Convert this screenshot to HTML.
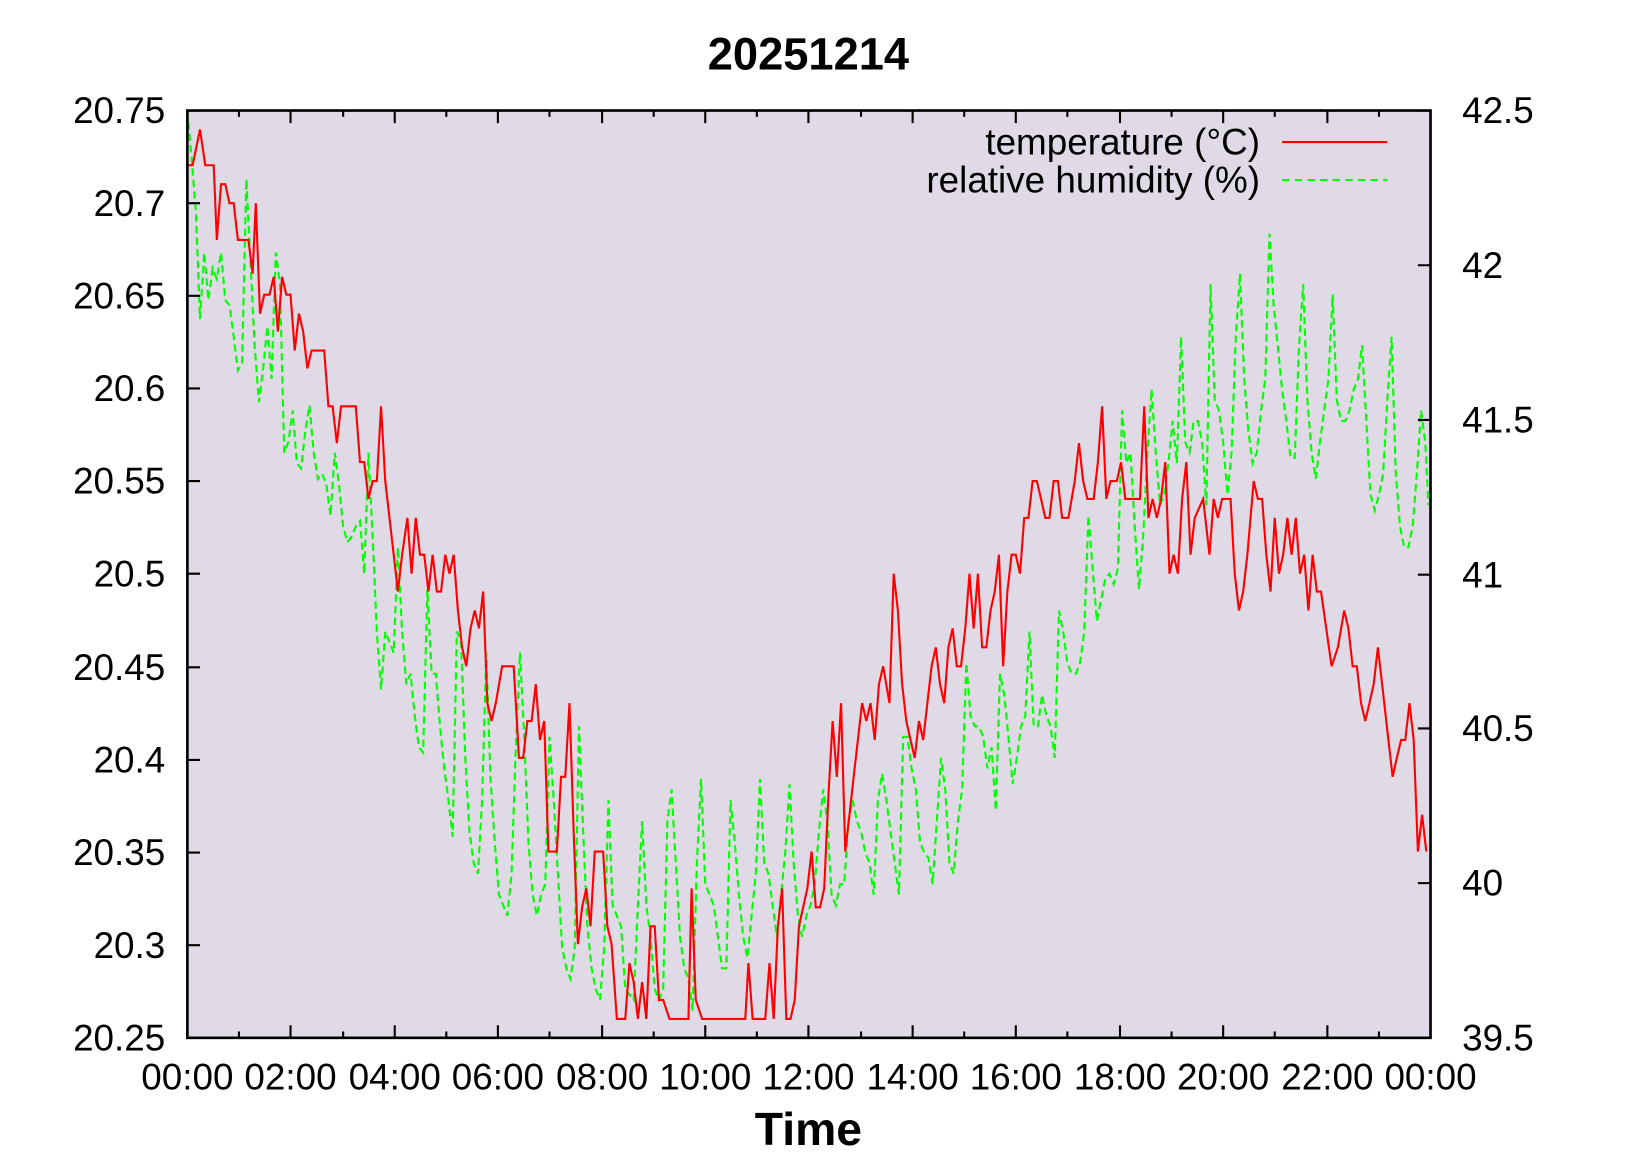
<!DOCTYPE html>
<html><head><meta charset="utf-8"><style>body{margin:0;background:#fff}svg{display:block}text{font-family:"Liberation Sans",sans-serif;fill:#000}</style></head><body>
<svg width="1650" height="1155" viewBox="0 0 1567.5 1097.3" preserveAspectRatio="none" xmlns="http://www.w3.org/2000/svg">
<rect x="178" y="105" width="1181" height="881" fill="#e0d9e6"/>
<text x="768" y="66" font-size="43" font-weight="bold" text-anchor="middle">20251214</text>
<text x="768" y="1088" font-size="44" font-weight="bold" text-anchor="middle">Time</text>
<g font-size="35" text-anchor="end">
<text x="157" y="117">20.75</text><text x="157" y="205">20.7</text><text x="157" y="293">20.65</text><text x="157" y="381">20.6</text><text x="157" y="469">20.55</text><text x="157" y="557">20.5</text><text x="157" y="646">20.45</text><text x="157" y="734">20.4</text><text x="157" y="822">20.35</text><text x="157" y="910">20.3</text><text x="157" y="998">20.25</text>
</g>
<g font-size="35">
<text x="1389" y="117">42.5</text><text x="1389" y="264">42</text><text x="1389" y="411">41.5</text><text x="1389" y="558">41</text><text x="1389" y="704">40.5</text><text x="1389" y="851">40</text><text x="1389" y="998">39.5</text>
</g>
<g font-size="35" text-anchor="middle">
<text x="178" y="1035">00:00</text><text x="276" y="1035">02:00</text><text x="375" y="1035">04:00</text><text x="473" y="1035">06:00</text><text x="572" y="1035">08:00</text><text x="670" y="1035">10:00</text><text x="768" y="1035">12:00</text><text x="867" y="1035">14:00</text><text x="965" y="1035">16:00</text><text x="1064" y="1035">18:00</text><text x="1162" y="1035">20:00</text><text x="1261" y="1035">22:00</text><text x="1359" y="1035">00:00</text>
</g>
<g font-size="35" text-anchor="end">
<text x="1197" y="147">temperature (°C)</text>
<text x="1197" y="183">relative humidity (%)</text>
</g>
<line x1="1218" y1="135" x2="1318" y2="135" stroke="#f00" stroke-width="2"/>
<line x1="1218" y1="171" x2="1318" y2="171" stroke="#0f0" stroke-width="2" stroke-dasharray="7,5"/>
<polyline fill="none" stroke="#0f0" stroke-width="2" stroke-dasharray="7,4" points="178,105 182,150 186,200 190,303 194,240 198,285 202,255 206,265 210,240 214,285 218,290 222,320 226,352 230,345 234,170 238,250 242,330 246,382 250,350 254,310 258,360 262,240 266,270 270,430 274,420 278,390 282,440 286,445 290,410 294,385 298,430 302,455 306,450 310,460 314,490 318,430 322,460 326,500 330,515 334,510 338,500 342,495 346,545 350,430 354,510 358,600 362,655 366,600 370,610 374,620 378,520 382,600 386,650 390,640 394,680 398,710 402,715 406,560 410,640 414,640 418,690 422,730 426,760 430,795 434,600 438,610 442,720 446,790 450,820 454,830 458,760 462,620 466,740 470,800 474,850 478,860 482,870 486,830 490,710 494,620 498,700 502,800 506,850 510,870 514,850 518,840 522,700 526,760 530,830 534,900 538,920 542,930 546,900 550,690 554,790 558,880 562,920 566,940 570,950 574,900 578,760 582,860 586,870 590,880 594,940 598,945 602,950 606,860 610,780 614,860 618,890 622,940 626,950 630,940 634,780 638,750 642,820 646,890 650,920 654,930 658,960 662,820 666,740 670,840 674,850 678,860 682,890 686,920 690,920 694,760 698,800 702,850 706,890 710,910 714,870 718,830 722,740 726,820 730,830 734,860 738,890 742,850 746,810 750,745 754,820 758,870 762,890 766,870 770,860 774,840 778,790 782,750 786,780 790,850 794,860 798,840 802,840 806,780 810,760 814,780 818,790 822,810 826,820 830,850 834,760 838,735 842,760 846,790 850,820 854,850 858,700 862,700 866,730 870,750 874,800 878,810 882,815 886,840 890,780 894,720 898,750 902,820 906,830 910,780 914,750 918,630 922,680 926,690 930,690 934,700 938,730 942,710 946,770 950,640 954,660 958,700 962,745 966,720 970,690 974,680 978,600 982,690 986,690 990,660 994,680 998,690 1002,720 1006,580 1010,600 1014,630 1018,640 1022,640 1026,630 1030,600 1034,490 1038,540 1042,590 1046,570 1050,550 1054,545 1058,555 1062,540 1066,390 1070,440 1074,430 1078,500 1082,560 1086,510 1090,430 1094,370 1098,430 1102,480 1106,470 1110,440 1114,400 1118,440 1122,320 1126,420 1130,430 1134,400 1138,400 1142,420 1146,480 1150,270 1154,380 1158,390 1162,420 1166,470 1170,430 1174,320 1178,260 1182,360 1186,410 1190,440 1194,430 1198,390 1202,360 1206,222 1210,290 1214,330 1218,370 1222,400 1226,435 1230,435 1234,330 1238,270 1242,380 1246,430 1250,455 1254,420 1258,390 1262,360 1266,280 1270,380 1274,400 1278,400 1282,390 1286,370 1290,360 1294,328 1298,400 1302,470 1306,485 1310,470 1314,450 1318,380 1322,320 1326,450 1330,500 1334,520 1338,520 1342,500 1346,450 1350,390 1354,420 1357,480"/>
<polyline fill="none" stroke="#f00" stroke-width="2" points="178,157 183,157 190,123 195,157 203,157 206,228 210,175 214,175 218,193 222,193 226,228 236,228 240,260 243,193 247,298 251,280 256,280 260,263 264,315 268,263 272,280 276,280 280,333 284,298 288,315 292,350 296,333 308,333 312,386 316,386 320,421 324,386 338,386 342,439 346,439 350,474 354,457 358,457 362,386 366,457 378,562 382,527 387,492 391,545 395,492 399,527 403,527 407,562 411,527 415,562 419,562 423,527 427,545 431,527 435,580 439,615 443,633 447,597 451,580 455,597 459,562 463,668 467,685 471,668 477,633 488,633 493,720 497,720 501,685 505,685 509,650 513,703 517,685 521,809 529,809 533,738 537,738 541,668 545,791 549,897 553,862 557,844 561,880 565,809 573,809 577,880 581,897 586,968 594,968 598,915 602,933 606,968 610,933 614,968 618,880 622,880 626,950 630,950 636,968 654,968 657,844 661,950 667,968 708,968 711,915 715,968 727,968 731,915 735,968 739,880 743,844 747,968 751,968 755,950 759,880 767,844 771,809 775,862 779,862 783,844 787,756 791,685 795,738 799,668 803,809 807,774 811,738 819,668 823,685 827,668 831,703 835,650 839,633 845,668 849,545 853,580 857,650 861,685 865,703 869,720 873,685 877,703 881,668 885,633 889,615 893,650 897,668 901,615 905,597 909,633 913,633 917,597 921,545 925,597 929,545 933,615 937,615 941,580 945,562 949,527 953,633 957,562 961,527 965,527 969,545 973,492 977,492 981,457 985,457 989,474 993,492 997,492 1001,457 1005,457 1009,492 1015,492 1021,457 1025,421 1029,457 1033,474 1039,474 1043,439 1047,386 1051,474 1055,457 1061,457 1065,439 1069,474 1073,474 1077,474 1083,474 1087,386 1091,492 1095,474 1099,492 1103,474 1107,439 1111,545 1115,527 1119,545 1123,474 1127,439 1131,527 1135,492 1143,474 1149,527 1153,474 1157,492 1161,474 1169,474 1173,545 1177,580 1181,562 1185,527 1191,457 1195,474 1199,474 1203,527 1207,562 1211,492 1215,545 1219,527 1223,492 1227,527 1231,492 1235,545 1239,527 1243,580 1247,527 1251,562 1255,562 1265,633 1271,615 1277,580 1281,597 1285,633 1289,633 1293,668 1297,685 1301,668 1305,650 1309,615 1313,650 1319,703 1323,738 1327,720 1331,703 1335,703 1339,668 1343,703 1347,809 1351,774 1355,809"/>
<path stroke="#000" stroke-width="2" fill="none" d="
M178,105h12M178,193h12M178,281h12M178,369h12M178,457h12M178,545h12M178,634h12M178,722h12M178,810h12M178,898h12
M1359,105h-12M1359,252h-12M1359,399h-12M1359,546h-12M1359,692h-12M1359,839h-12
M227,986v-6M326,986v-6M424,986v-6M522,986v-6M621,986v-6M719,986v-6M818,986v-6M916,986v-6M1014,986v-6M1113,986v-6M1211,986v-6M1310,986v-6
M276,986v-12M375,986v-12M473,986v-12M572,986v-12M670,986v-12M768,986v-12M867,986v-12M965,986v-12M1064,986v-12M1162,986v-12M1261,986v-12
M227,105v6M326,105v6M424,105v6M522,105v6M621,105v6M719,105v6M818,105v6M916,105v6M1014,105v6M1113,105v6M1211,105v6M1310,105v6
M276,105v12M375,105v12M473,105v12M572,105v12M670,105v12M768,105v12M867,105v12M965,105v12M1064,105v12M1162,105v12M1261,105v12"/>
<rect x="178" y="105" width="1181" height="881" fill="none" stroke="#000" stroke-width="2.5"/>
</svg>
</body></html>
